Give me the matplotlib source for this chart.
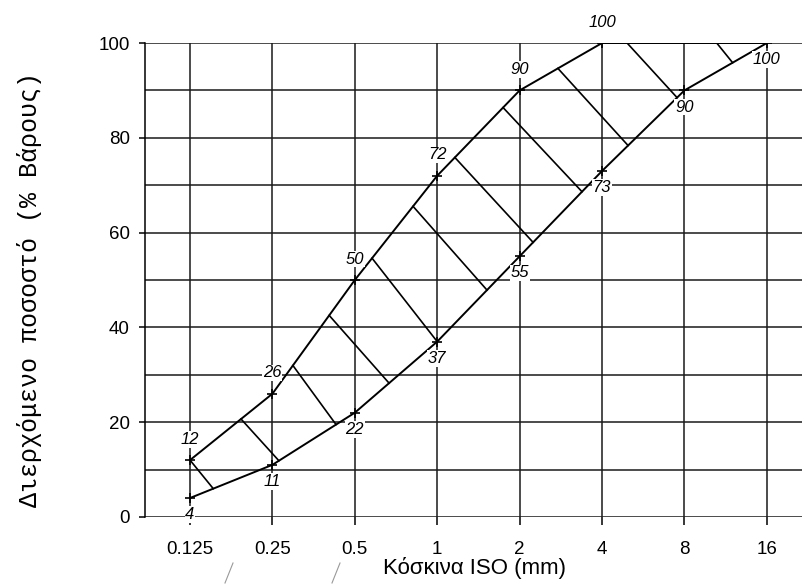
import numpy as np
import matplotlib
matplotlib.use("Agg")
import matplotlib.pyplot as plt
from matplotlib.lines import Line2D

plt.rcParams["font.family"] = ["Liberation Sans", "DejaVu Sans"]

# sieve sizes (mm) and grading envelope (% passing)
sieves = [0.125, 0.25, 0.5, 1, 2, 4, 8, 16]
sieve_labels = ["0.125", "0.25", "0.5", "1", "2", "4", "8", "16"]
upper = [12, 26, 50, 72, 90, 100, 100, 100]
lower = [4, 11, 22, 37, 55, 73, 90, 100]
n_upper_labels = 6  # upper curve labelled up to 4 mm

# hatch lines: where each one leaves the upper curve and meets the lower one (mm)
hatch_top_x = [0.125, 0.192, 0.297, 0.403, 0.578, 0.816, 1.16, 1.74, 2.76, 4.94, 10.5]
hatch_bot_x = [0.152, 0.264, 0.427, 0.667, 1.0, 1.52, 2.24, 3.38, 4.98, 7.52, 12.0]

yticks = [0, 20, 40, 60, 80, 100]
ygrid = list(range(0, 101, 10))


def on_curve(x, xs, ys):
    return np.interp(np.log2(x), np.log2(xs), ys)


fig = plt.figure(figsize=(8.03, 5.87), dpi=100)
ax = fig.add_axes([0.1806, 0.1193, 0.8194, 0.8074])
ax.set_xscale("log", base=2)
ax.set_xlim(2 ** -3.546, 2 ** 4.439)
ax.set_ylim(0, 100)

grid_kw = dict(color="#1a1a1a", linewidth=1.1, zorder=1)
for y in ygrid:
    ax.axhline(y, **grid_kw)
for x in sieves:
    ax.plot([x, x], [0, 100], **grid_kw)

# envelope curves
ax.plot(sieves, upper, color="black", linewidth=1.4, zorder=3)
ax.plot(sieves, lower, color="black", linewidth=1.4, zorder=3)
ax.plot(sieves[:n_upper_labels], upper[:n_upper_labels], "+", color="black",
        markersize=7, mew=1.2, zorder=4)
ax.plot(sieves, lower, "+", color="black", markersize=7, mew=1.2, zorder=4)

# hatching between the curves
for xt, xb in zip(hatch_top_x, hatch_bot_x):
    ax.plot([xt, xb], [on_curve(xt, sieves, upper), on_curve(xb, sieves, lower)],
            color="black", linewidth=1.2, zorder=3)

lbl_kw = dict(fontsize=12, style="italic", ha="center", va="center", zorder=5,
              annotation_clip=False,
              bbox=dict(facecolor="white", edgecolor="none", pad=0.6))
for x, v in zip(sieves[:n_upper_labels], upper[:n_upper_labels]):
    ax.annotate(str(v), (x, v), xytext=(0, 15), textcoords="offset points", **lbl_kw)
for x, v in zip(sieves, lower):
    ax.annotate(str(v), (x, v), xytext=(0, -12), textcoords="offset points", **lbl_kw)

ax.set_xticks(sieves)
ax.set_xticklabels(sieve_labels)
ax.minorticks_off()
ax.set_yticks(yticks)
ax.tick_params(axis="x", length=6, width=1.1, pad=11, labelsize=13.5)
ax.tick_params(axis="y", length=4, width=1.1, pad=7, labelsize=13.5)
for side in ["top", "right", "bottom"]:
    ax.spines[side].set_visible(False)
ax.spines["left"].set_linewidth(1.1)

fig.text(0.037, 0.506, "Διερχόμενο ποσοστό (% Βάρους)", rotation=90,
         ha="center", va="center", fontsize=18, family="Liberation Mono")
fig.text(0.5915, 0.032, "Κόσκινα ISO (mm)", ha="center", va="center", fontsize=16)

# faint scan marks under the axis
for x0 in (233, 340):
    fig.add_artist(Line2D([x0 / 803, (x0 - 8) / 803], [1 - 563 / 587, 1 - 583 / 587],
                          color="#999999", linewidth=0.8))

fig.savefig("out.png", dpi=100)
